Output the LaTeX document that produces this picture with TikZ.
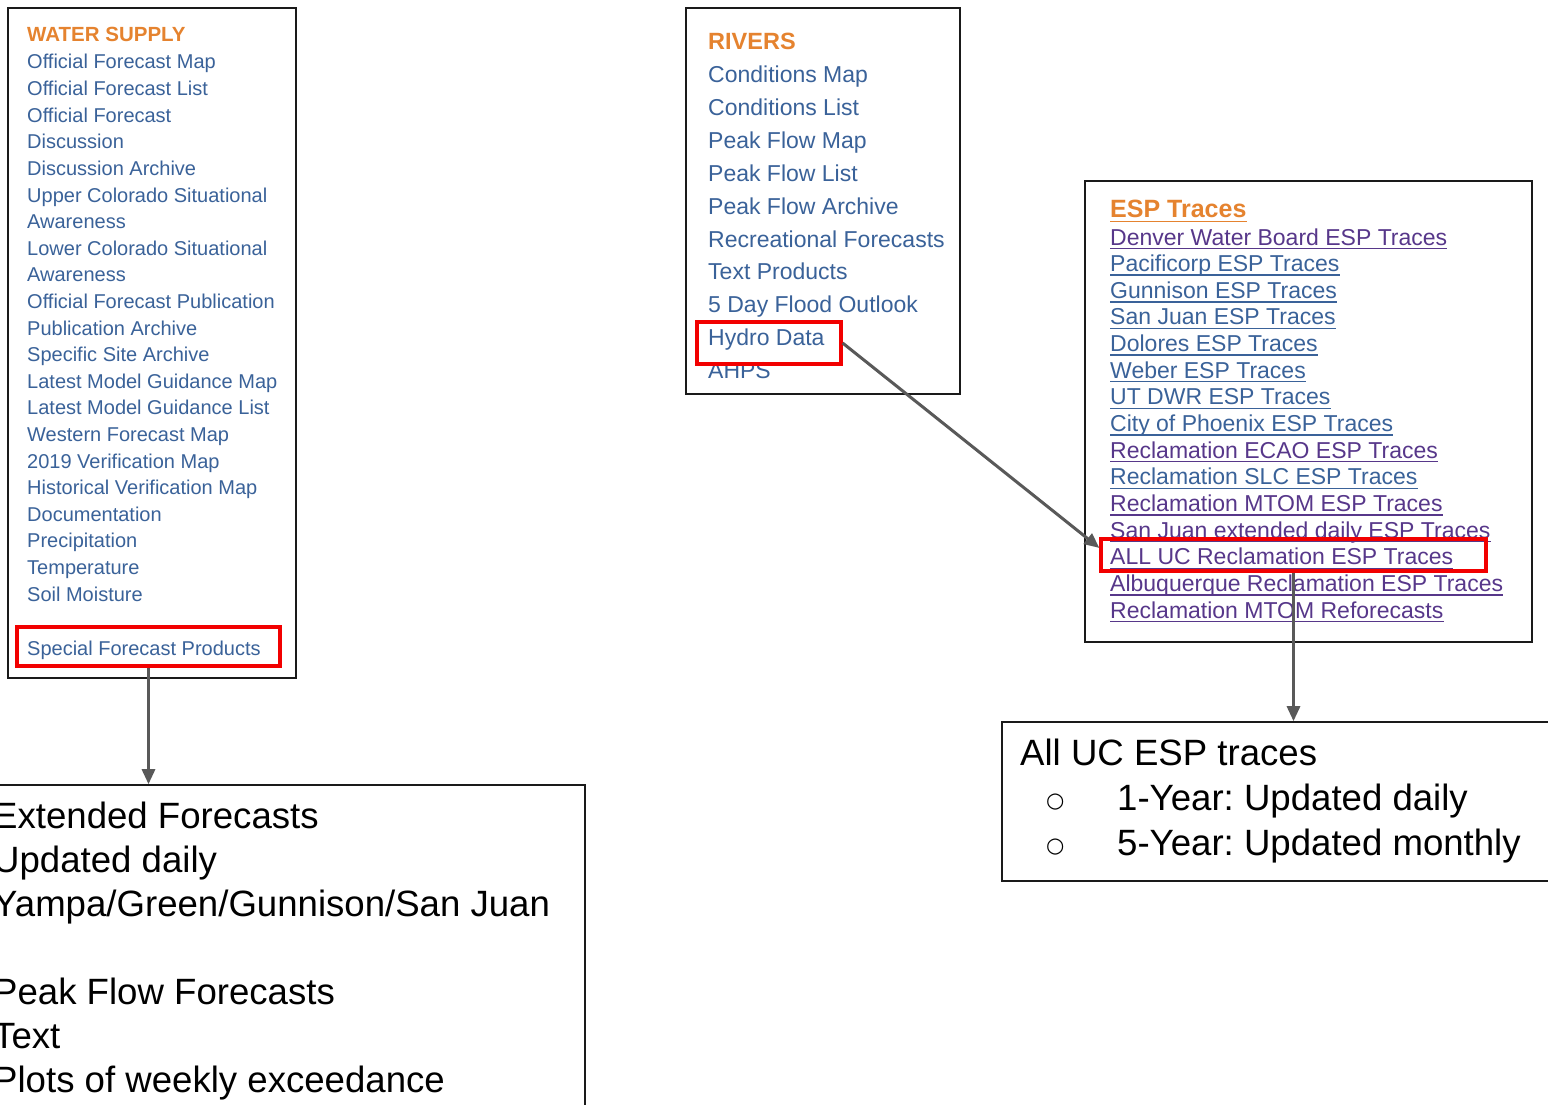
\documentclass[tikz,border=0pt]{standalone}
\usepackage{fontspec}
\setmainfont{Liberation Sans}
\newfontfamily\dejavu{DejaVu Sans}
\usetikzlibrary{arrows.meta,calc}
\definecolor{ttlorange}{HTML}{E5832F}
\definecolor{linkblue}{HTML}{3A6299}
\definecolor{linkpurple}{HTML}{57378A}
\definecolor{hlred}{HTML}{F20000}
\definecolor{arrgray}{HTML}{595959}
\definecolor{framecol}{HTML}{1A1A1A}
\frenchspacing
\begin{document}
\begin{tikzpicture}[x=1pt,y=-1pt,
  panel/.style={draw=framecol, line width=2pt, inner sep=0pt, fill=white},
  slidebox/.style={draw=framecol, line width=1.6pt, inner sep=0pt, fill=white},
  redbox/.style={draw=hlred, line width=3.2pt, inner sep=0pt},
  wsitem/.style={anchor=base west, inner sep=0pt, text=linkblue, font=\fontsize{20}{24}\selectfont},
  wstitle/.style={anchor=base west, inner sep=0pt, text=ttlorange, font=\bfseries\fontsize{20.5}{24}\selectfont},
  rvitem/.style={anchor=base west, inner sep=0pt, text=linkblue, font=\fontsize{23}{27}\selectfont},
  rvtitle/.style={anchor=base west, inner sep=0pt, text=ttlorange, font=\bfseries\fontsize{23.5}{27}\selectfont},
  espitem/.style={anchor=base west, inner sep=0pt, font=\fontsize{23}{27}\selectfont},
  esptitle/.style={anchor=base west, inner sep=0pt, text=ttlorange, font=\bfseries\fontsize{25}{29}\selectfont},
  bigtext/.style={anchor=base west, inner sep=0pt, text=black, font=\fontsize{36.6}{42}\selectfont},
  connector/.style={draw=arrgray, line width=3pt, -{Triangle[length=15pt,width=13pt]}, arrgray}
]
\clip (0,0) rectangle (1548,1105);
\fill[white] (0,0) rectangle (1548,1105);

% ---------- panels ----------
\node[panel, minimum width=288pt, minimum height=670pt] (wsbox) at (152,343) {};
\node[panel, minimum width=274pt, minimum height=386pt] (rvbox) at (823,201) {};
\node[panel, minimum width=447pt, minimum height=461pt] (espbox) at (1308.5,411.5) {};
\node[slidebox, minimum width=605pt, minimum height=345pt] (extbox) at (282.5,957.5) {};
\node[slidebox, minimum width=558pt, minimum height=159pt] (ucbox) at (1281,801.5) {};

% ---------- WATER SUPPLY ----------
\node[wstitle] (wst) at (27,42) {WATER SUPPLY};
\foreach \t [count=\i from 0] in {Official Forecast Map, Official Forecast List, Official Forecast,
  Discussion, Discussion Archive, Upper Colorado Situational, Awareness, Lower Colorado Situational,
  Awareness, Official Forecast Publication, Publication Archive, Specific Site Archive,
  Latest Model Guidance Map, Latest Model Guidance List, Western Forecast Map, 2019 Verification Map,
  Historical Verification Map, Documentation, Precipitation, Temperature, Soil Moisture}
  \node[wsitem] (ws\i) at (27,{69+26.6*\i}) {\t};
\node[wsitem] (wssfp) at (27,655) {Special Forecast Products};

% ---------- RIVERS ----------
\node[rvtitle] (rvt) at (708,50) {RIVERS};
\foreach \t [count=\i from 0] in {Conditions Map, Conditions List, Peak Flow Map, Peak Flow List,
  Peak Flow Archive, Recreational Forecasts, Text Products, 5 Day Flood Outlook, Hydro Data, AHPS}
  \node[rvitem] (rv\i) at (708,{83+32.8*\i}) {\t};

% ---------- ESP Traces ----------
\node[esptitle] (espt) at (1110,218) {ESP Traces};
\draw[ttlorange, line width=1.5pt] ($(espt.base west)+(0,3.5)$) -- ($(espt.base east)+(0,3.5)$);
\foreach \t/\c [count=\i from 0] in {
  Denver Water Board ESP Traces/linkpurple,
  Pacificorp ESP Traces/linkblue,
  Gunnison ESP Traces/linkblue,
  San Juan ESP Traces/linkblue,
  Dolores ESP Traces/linkblue,
  Weber ESP Traces/linkblue,
  UT DWR ESP Traces/linkblue,
  City of Phoenix ESP Traces/linkblue,
  Reclamation ECAO ESP Traces/linkpurple,
  Reclamation SLC ESP Traces/linkblue,
  Reclamation MTOM ESP Traces/linkpurple,
  San Juan extended daily ESP Traces/linkpurple,
  ALL UC Reclamation ESP Traces/linkpurple,
  Albuquerque Reclamation ESP Traces/linkpurple,
  Reclamation MTOM Reforecasts/linkpurple}
{
  \node[espitem, text=\c] (esp\i) at (1110,{245+26.65*\i}) {\t};
  \draw[\c, line width=1.4pt] ($(esp\i.base west)+(0,3.5)$) -- ($(esp\i.base east)+(0,3.5)$);
}

% ---------- bottom-left slide text ----------
\node[bigtext] (ext1) at (-7,828) {Extended Forecasts};
\node[bigtext] (ext2) at (-7,872) {Updated daily};
\node[bigtext] (ext3) at (-7,916) {Yampa/Green/Gunnison/San Juan};
\node[bigtext] (ext4) at (-7,1004) {Peak Flow Forecasts};
\node[bigtext] (ext5) at (-7,1048) {Text};
\node[bigtext] (ext6) at (-7,1092) {Plots of weekly exceedance};

% ---------- bottom-right slide text ----------
\node[bigtext] (uc1) at (1020,765) {All UC ESP traces};
\node[anchor=base west, inner sep=0pt, font=\dejavu\fontsize{21}{25}\selectfont] (ucb1) at (1046,807) {○};
\node[bigtext] (uc2) at (1117,810) {1-Year: Updated daily};
\node[anchor=base west, inner sep=0pt, font=\dejavu\fontsize{21}{25}\selectfont] (ucb2) at (1046,852) {○};
\node[bigtext] (uc3) at (1117,855) {5-Year: Updated monthly};

% ---------- red highlight boxes ----------
\node[redbox, minimum width=263pt, minimum height=39pt] (sfp) at (148.5,646.5) {};
\node[redbox, minimum width=144pt, minimum height=42pt] (hyd) at (769,343) {};
\node[redbox, minimum width=385pt, minimum height=32pt] (allred) at (1293.5,555) {};

% ---------- connectors ----------
\draw[connector] (sfp.south) -- (sfp.south |- extbox.north);
\draw[connector] (hyd.east) -- ($(allred.north west)!0.3!(allred.south west)$);
\draw[connector] (allred.south) -- (allred.south |- ucbox.north);
\end{tikzpicture}
\end{document}
